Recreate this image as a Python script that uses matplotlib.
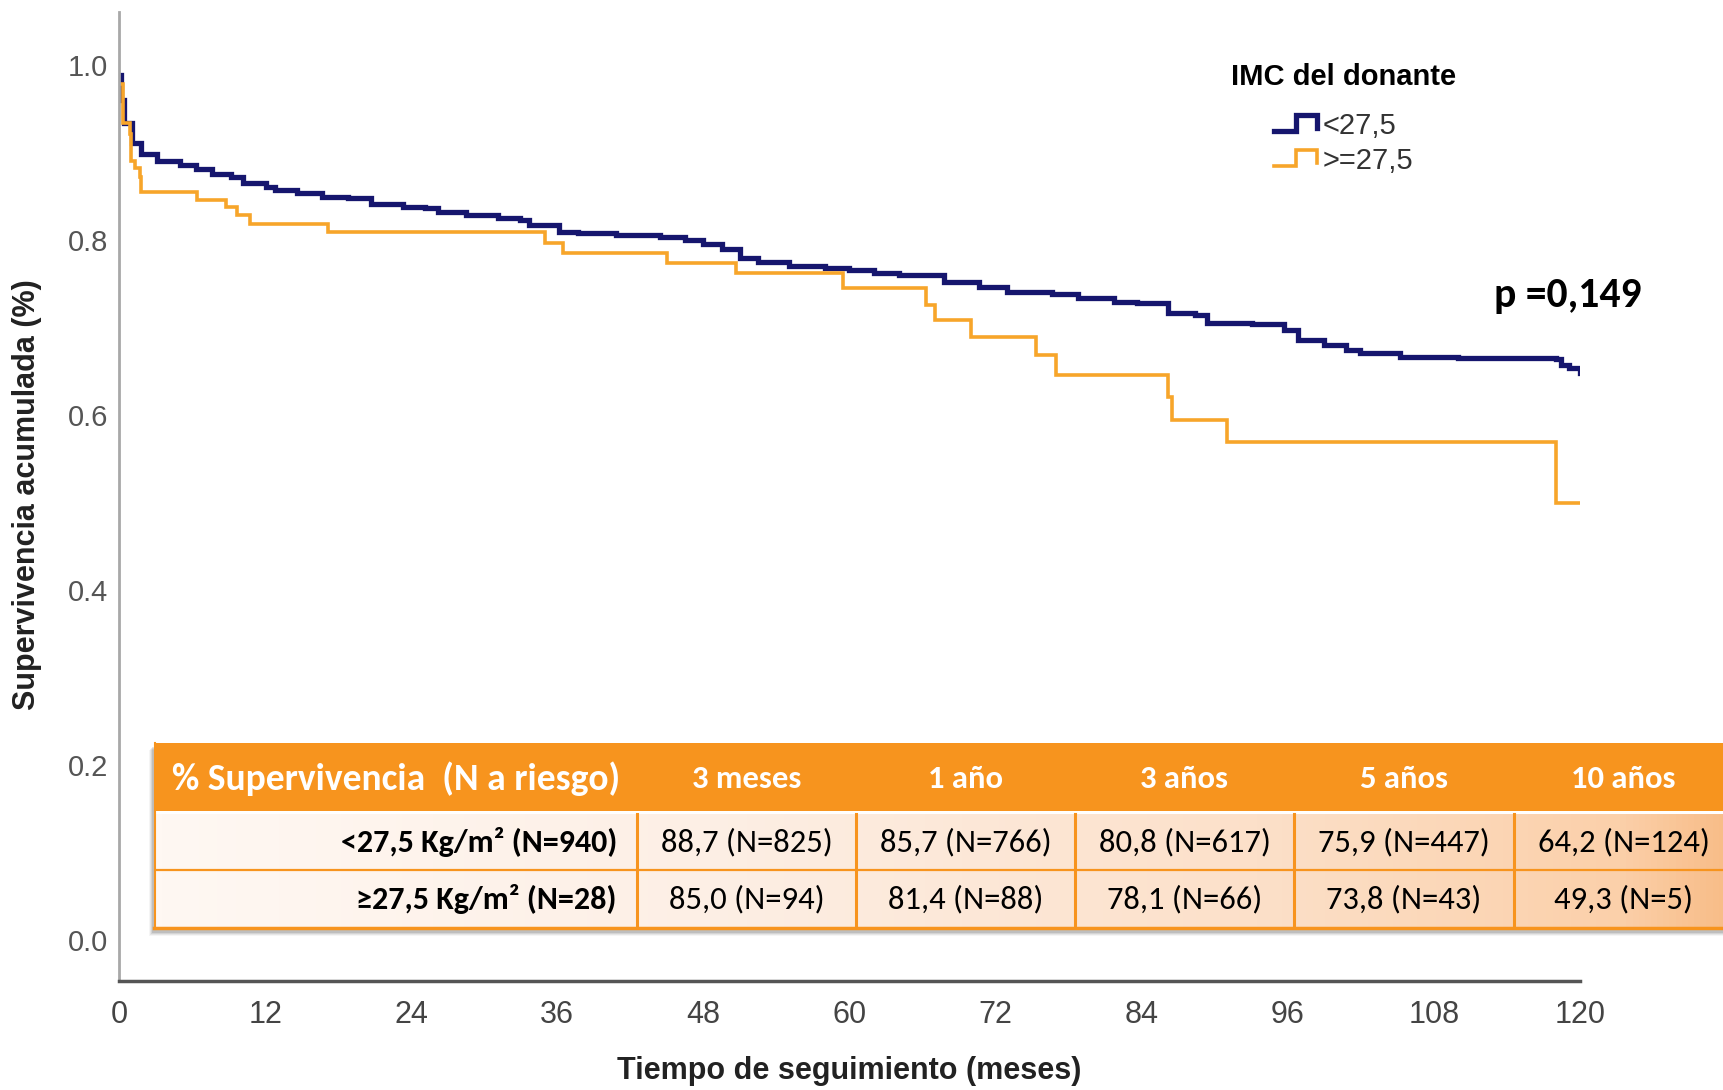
import numpy as np
import matplotlib
matplotlib.use("Agg")
import matplotlib.pyplot as plt
from matplotlib import font_manager
from matplotlib.lines import Line2D
from matplotlib.legend_handler import HandlerBase
from matplotlib.colors import LinearSegmentedColormap
from matplotlib.patches import Rectangle


def pick(*names):
    """First installed family from the list."""
    for n in names:
        try:
            font_manager.findfont(n, fallback_to_default=False)
            return n
        except ValueError:
            pass
    return "DejaVu Sans"


NARROW = pick("Liberation Sans Narrow", "Liberation Sans")
ARIAL = pick("Liberation Sans", "DejaVu Sans")
CALIBRI = pick("Carlito", "Lato", "Open Sans")

# --- Kaplan-Meier curves ---
t_low = [0, 0.2, 0.4, 1.1, 1.8, 3.1, 5.0, 6.3, 7.6, 9.2, 10.2, 12.1, 12.8, 14.6,
         16.7, 18.8, 20.7, 23.3, 25.1, 26.2, 28.5, 31.1, 32.9, 33.7, 36.1, 37.7,
         40.8, 44.4, 46.5, 48.0, 49.5, 51.0, 52.5, 55.0, 58.0, 60.0, 62.0, 64.1,
         67.8, 70.6, 72.9, 76.6, 78.8, 81.7, 83.6, 86.2, 88.4, 89.4, 93.1, 95.7,
         96.8, 99.0, 100.8, 101.9, 105.2, 110.0, 118.0, 118.4, 119.1, 120.0]
s_low = [0.989, 0.960, 0.934, 0.911, 0.899, 0.891, 0.886, 0.882, 0.876, 0.872,
         0.866, 0.861, 0.857, 0.854, 0.850, 0.848, 0.842, 0.838, 0.837, 0.832,
         0.829, 0.825, 0.823, 0.817, 0.809, 0.808, 0.806, 0.804, 0.800, 0.796,
         0.790, 0.780, 0.775, 0.771, 0.768, 0.766, 0.763, 0.760, 0.752, 0.746,
         0.741, 0.739, 0.734, 0.729, 0.728, 0.717, 0.714, 0.705, 0.704, 0.697,
         0.686, 0.680, 0.674, 0.671, 0.667, 0.665, 0.664, 0.657, 0.654, 0.648]

t_high = [0, 0.3, 0.9, 1.0, 1.3, 1.7, 1.8, 6.4, 8.8, 9.7, 10.8, 17.2, 35.0, 36.5,
          45.0, 50.7, 59.5, 66.3, 67.0, 70.0, 75.3, 77.0, 86.2, 86.5, 91.0, 118.0,
          120.0]
s_high = [0.979, 0.934, 0.922, 0.891, 0.883, 0.872, 0.855, 0.846, 0.838, 0.829,
          0.819, 0.809, 0.797, 0.785, 0.774, 0.762, 0.745, 0.726, 0.709, 0.689,
          0.669, 0.646, 0.621, 0.595, 0.569, 0.499, 0.499]

series_labels = ["<27,5", ">=27,5"]
legend_title = "IMC del donante"
p_text = "p =0,149"

x_ticks = list(range(0, 121, 12))
y_ticks = [0.0, 0.2, 0.4, 0.6, 0.8, 1.0]

# --- survival table ---
table_title = "% Supervivencia  (N a riesgo)"
table_cols = ["3 meses", "1 año", "3 años", "5 años", "10 años"]
table_rows = ["<27,5 Kg/m² (N=940)", "≥27,5 Kg/m² (N=28)"]
table_vals = [
    ["88,7 (N=825)", "85,7 (N=766)", "80,8 (N=617)", "75,9 (N=447)", "64,2 (N=124)"],
    ["85,0 (N=94)", "81,4 (N=88)", "78,1 (N=66)", "73,8 (N=43)", "49,3 (N=5)"],
]

NAVY = "#16166E"
ORANGE = "#F7A52A"
TAB_ORANGE = "#F7941E"

W, H = 1723, 1090
fig = plt.figure(figsize=(W / 100, H / 100), dpi=100)
ax = fig.add_axes([119 / W, 109 / H, 1461 / W, 969 / H])

l1, = ax.step(t_low, s_low, where="post", color=NAVY, lw=3.8, solid_joinstyle="miter")
l2, = ax.step(t_high, s_high, where="post", color=ORANGE, lw=2.6, solid_joinstyle="miter")

ax.set_xlim(0, 120)
ax.set_ylim(-0.047, 1.061)
ax.set_xticks(x_ticks)
ax.set_xticklabels([str(v) for v in x_ticks], fontfamily=NARROW, fontsize=22, color="#444444")
ax.set_yticks(y_ticks)
ax.set_yticklabels([f"{v:.1f}" for v in y_ticks], fontfamily=ARIAL, fontsize=21, color="#555555")
ax.tick_params(axis="x", length=0, pad=14)
ax.tick_params(axis="y", length=0, pad=8)
for s in ("top", "right"):
    ax.spines[s].set_visible(False)
ax.spines["left"].set_color("#A8A8A8")
ax.spines["left"].set_linewidth(2)
ax.spines["bottom"].set_color("#555555")
ax.spines["bottom"].set_linewidth(2.5)

ax.set_xlabel("Tiempo de seguimiento (meses)", fontfamily=NARROW, fontweight="bold",
              fontsize=22, color="#222222")
ax.xaxis.set_label_coords(0.5, -(1071 - 981) / 969)
ax.xaxis.label.set_va("center")
ax.set_ylabel("Supervivencia acumulada (%)", fontfamily=NARROW, fontweight="bold",
              fontsize=22, color="#222222")
ax.yaxis.set_label_coords(-(119 - 27) / 1461, (981 - 495) / 969)
ax.yaxis.label.set_va("center")

ax.text(112.9, 0.737, p_text, fontfamily=CALIBRI, fontweight="bold", fontsize=30,
        color="black", va="center", ha="left")


class StepHandler(HandlerBase):
    """Legend glyph drawn as a small step, like the SPSS legend."""
    def create_artists(self, legend, orig_handle, xdescent, ydescent, width,
                       height, fontsize, trans):
        x0 = -xdescent
        y0 = -ydescent
        xs = np.array([0, 0.5, 0.5, 0.97, 0.97]) * width + x0
        ys = np.array([0.15, 0.15, 0.95, 0.95, 0.3]) * height + y0
        ln = Line2D(xs, ys, color=orig_handle.get_color(),
                    lw=orig_handle.get_linewidth(), solid_joinstyle="miter")
        ln.set_transform(trans)
        return [ln]


leg = ax.legend(handles=[l1, l2], labels=series_labels, title=legend_title,
                loc="upper left", bbox_to_anchor=(1231 / W, 1 - 63 / H),
                bbox_transform=fig.transFigure, frameon=False, borderpad=0,
                borderaxespad=0, handlelength=1.5, handletextpad=0.15,
                labelspacing=0.25, handler_map={Line2D: StepHandler()},
                prop={"family": ARIAL, "size": 21},
                title_fontproperties={"family": ARIAL, "weight": "bold", "size": 21})
for txt in leg.get_texts():
    txt.set_color("#333333")
# wider gap between the legend title and the entries
leg._legend_box.sep = 0.25 * 21 + 10

# --- table drawn in its own pixel-unit axes ---
col_edges = [0, 483, 702, 921, 1140, 1360, 1579]
tb = fig.add_axes([154 / W, (H - 929) / H, 1579 / W, 186 / H])
tb.set_xlim(0, 1579)
tb.set_ylim(186, 0)
tb.axis("off")

# soft shadow
for k, a in enumerate([0.10, 0.08, 0.06, 0.04]):
    tb.add_patch(Rectangle((-2 - k, 4 + k), 1590, 186, color="#000000", alpha=a,
                           lw=0, clip_on=False, zorder=0))
body_cmap = LinearSegmentedColormap.from_list(
    "body", [(0, "#FFF8F3"), (0.35, "#FDEFE5"), (0.7, "#FCE0C9"), (0.93, "#FBD0AA"),
             (1.0, "#F8BC86")])
grad = np.linspace(0, 1, 400).reshape(1, -1)
tb.imshow(grad, extent=(0, 1579, 186, 70), aspect="auto", cmap=body_cmap,
          zorder=1, interpolation="bilinear")
tb.add_patch(Rectangle((0, 0), 1579, 68, color=TAB_ORANGE, lw=0, zorder=2))
tb.add_patch(Rectangle((0, 68), 1579, 3, color="white", lw=0, zorder=2))
tb.plot([0, 1579], [127, 127], color=TAB_ORANGE, lw=1.6, zorder=3)
tb.plot([0, 1579], [185, 185], color=TAB_ORANGE, lw=2.5, zorder=3, clip_on=False)
tb.plot([0.5, 0.5], [0, 186], color=TAB_ORANGE, lw=1.5, zorder=3, clip_on=False)
for xe in col_edges[1:-1]:
    tb.plot([xe, xe], [71, 186], color=TAB_ORANGE, lw=2.2, zorder=3)

tb.text(18, 36, table_title, fontfamily=CALIBRI, fontweight="bold", fontsize=27,
        color="white", va="center", ha="left", zorder=4)
row_mid = [99, 156]
for j, c in enumerate(table_cols):
    xc = (col_edges[j + 1] + col_edges[j + 2]) / 2
    tb.text(xc, 36, c, fontfamily=CALIBRI, fontweight="bold", fontsize=23.5,
            color="white", va="center", ha="center", zorder=4)
for i, r in enumerate(table_rows):
    tb.text(463, row_mid[i], r, family=[CALIBRI, "DejaVu Sans"], fontweight="bold",
            fontsize=23, color="black", va="center", ha="right", zorder=4)
    for j, v in enumerate(table_vals[i]):
        xc = (col_edges[j + 1] + col_edges[j + 2]) / 2
        tb.text(xc, row_mid[i], v, fontfamily=CALIBRI, fontsize=23.5, color="black",
                va="center", ha="center", zorder=4)

fig.savefig("out.png", dpi=100)
